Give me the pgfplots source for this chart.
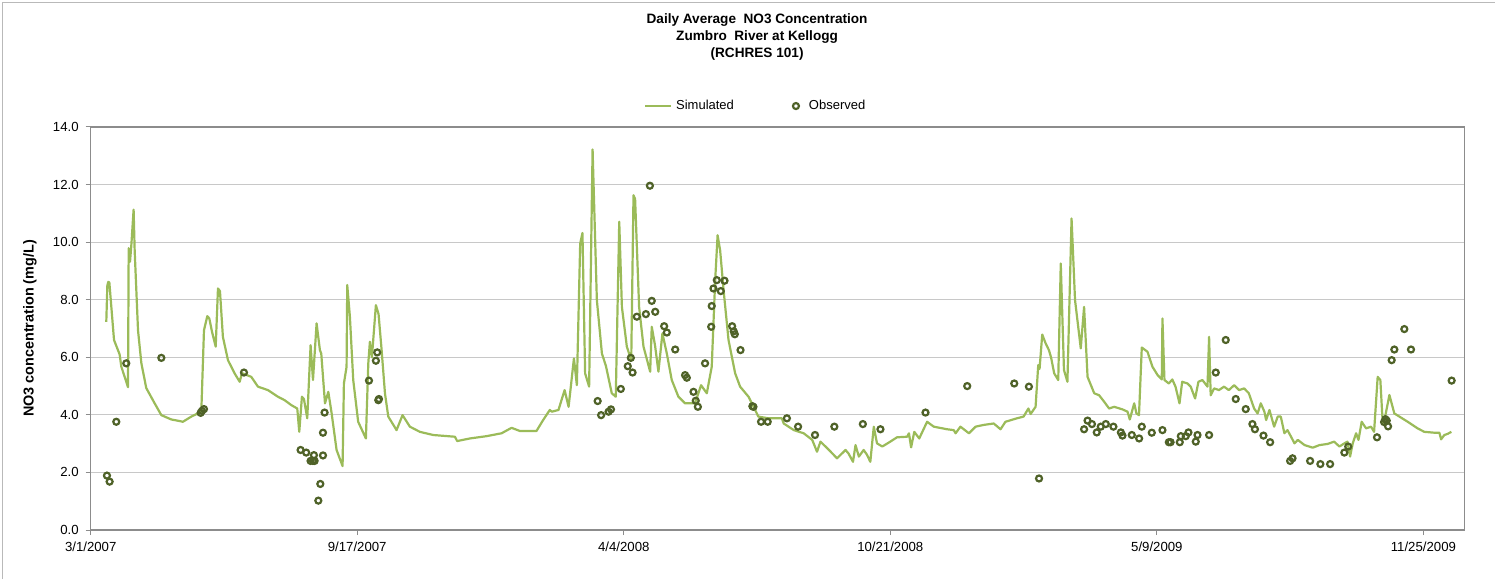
\documentclass[border=0pt]{standalone}
\usepackage{fontspec}
\setmainfont{Liberation Sans}
\usepackage{pgfplots}
\pgfplotsset{compat=1.18}
\definecolor{simgreen}{RGB}{155,187,89}
\definecolor{obsgreen}{RGB}{79,98,40}
\definecolor{gridgray}{RGB}{200,200,200}
\definecolor{axisgray}{RGB}{140,140,140}
\begin{document}
\begin{tikzpicture}
\useasboundingbox (-45.35pt,-24.5pt) rectangle (702.15pt,265pt);
% chart area border (left and top edges visible)
\draw[gray!55, line width=0.5pt] (-44.1pt,-24.5pt) -- (-44.1pt,263.75pt) -- (702.15pt,263.75pt);
\begin{axis}[
    at={(0,0)}, anchor=south west,
    scale only axis, width=687pt, height=201.5pt,
    xmin=0, xmax=1031, ymin=0, ymax=14,
    xtick={0,200,400,600,800,1000},
    xticklabels={3/1/2007,9/17/2007,4/4/2008,10/21/2008,5/9/2009,11/25/2009},
    ytick={0,2,4,6,8,10,12,14},
    yticklabels={0.0,2.0,4.0,6.0,8.0,10.0,12.0,14.0},
    xtick pos=bottom, ytick pos=left,
    tick align=outside, major tick length=2.5pt,
    axis line style={axisgray, line width=0.6pt},
    tick style={axisgray, line width=0.5pt},
    ymajorgrids=true,
    grid style={gridgray, line width=0.5pt},
    tick label style={font=\fontsize{6.6}{8}\selectfont},
    /pgf/number format/assume math mode=true,
    ylabel={NO3 concentration (mg/L)},
    every axis y label/.style={at={(axis description cs:-0.0442,0.5)}, rotate=90, anchor=center,
        font=\fontsize{7.2}{8}\selectfont\bfseries},
    title={Daily Average\ \ NO3 Concentration\\Zumbro\ \ River at Kellogg\\(RCHRES 101)},
    every axis title/.style={at={(axis description cs:0.485,1.2233)}, anchor=center, align=center,
        font=\fontsize{6.8}{8.5}\selectfont\bfseries},
    legend style={at={(axis description cs:0.398,1.052)}, anchor=west, draw=none, fill=none,
        font=\fontsize{6.5}{8}\selectfont, legend columns=2,
        /tikz/every even column/.append style={column sep=24.5pt}},
    legend cell align=left,
]

\addplot[simgreen, line width=1.1pt, line join=round,
    legend image code/.code={\draw[simgreen, line width=1.1pt] (0pt,0pt) -- (13pt,0pt);}]
coordinates {
(11.7,7.23)(12.5,8.5)(13.2,8.62)(14,8.6)(17.5,6.6)(21.7,6.1)(23,5.67)(25.5,5.32)
(28,4.96)(28.5,9.79)(29.5,9.32)(30.5,9.9)(32.2,11.13)(33,9.7)(35.5,6.94)(38,5.8)
(41.7,4.93)(48,4.4)(53,3.99)(60.5,3.84)(65,3.8)(69.2,3.76)(75.5,3.94)(83,4.11)
(85,6.94)(87.5,7.43)(89,7.35)(91,6.89)(93.8,6.37)(95.5,8.39)(97,8.3)(99.2,6.71)
(103,5.9)(108,5.44)(111.8,5.15)(113.5,5.45)(120.5,5.32)(125.5,4.98)(133,4.86)
(140.5,4.63)(145.5,4.51)(150.5,4.34)(155,4.22)(156.5,3.41)(158.5,4.63)(160,4.55)
(162.5,3.88)(165,6.42)(166.8,5.21)(169.5,7.18)(172,6.25)(173,6.13)(175.8,4.4)
(178.3,4.8)(180.8,4.05)(184.5,2.78)(189,2.22)(190,5.09)(192,5.67)(192.5,8.51)
(194.5,7.41)(197,5.21)(200.7,3.76)(206.5,3.18)(208.3,5.79)(209.5,6.54)(211,6.0)
(214,7.81)(216,7.5)(218.3,6.25)(220.8,4.75)(223.3,3.94)(229.5,3.47)(234,3.99)
(239.5,3.59)(247,3.41)(257,3.3)(273.3,3.24)(275,3.09)(284.5,3.18)(297,3.26)
(308.3,3.36)(315.8,3.55)(322,3.44)(334.5,3.44)(339.5,3.82)(344.5,4.17)(346,4.11)
(351,4.17)(355.6,4.86)(358.6,4.28)(362.6,5.96)(364.8,5.03)(367.3,9.95)(369,10.32)
(371,5.44)(374,4.98)(376.6,13.22)(379.8,7.99)(383.6,6.13)(386.6,5.7)(391,4.75)
(394,4.63)(396.6,10.71)(398.6,7.75)(402.3,6.37)(405.6,5.9)(407.3,11.63)(408.5,11.5)
(411.5,7.75)(414.8,6.37)(419.8,5.5)(421,7.06)(423.5,6.4)(426,5.5)(429,6.83)
(432.3,6.13)(436,5.21)(441,4.63)(446,4.4)(453.4,4.4)(458,5.03)(462.3,4.75)(466,5.67)
(468.6,8.68)(470.4,10.24)(472.3,9.72)(474.9,8.33)(478.6,6.6)(483.6,5.44)(487.3,4.98)
(493.6,4.63)(497.4,4.28)(501,3.94)(508.6,3.88)(518.6,3.88)(520,3.7)(527.6,3.47)
(535,3.36)(541.4,3.13)(545,2.72)(547.6,3.07)(554,2.78)(560,2.49)(566.4,2.78)
(568.6,2.66)(572,2.37)(573.9,2.95)(576.4,2.55)(580,2.78)(582.4,2.62)(585,2.37)
(587.6,3.59)(590,3.01)(594,2.9)(600,3.07)(605,3.22)(612.6,3.24)(614,3.36)(615.6,2.87)
(618,3.41)(621.7,3.18)(627.6,3.76)(632.6,3.59)(642.6,3.5)(647.6,3.47)(649,3.36)
(652.6,3.59)(659,3.36)(664,3.59)(670,3.65)(677.6,3.7)(682.7,3.5)(686.4,3.76)(695,3.88)
(700,3.94)(703.6,4.22)(705.3,4.03)(709,4.28)(711,5.73)(712,5.6)(714,6.79)(716.4,6.5)
(719,6.25)(720.6,6.0)(723,5.44)(726,5.21)(727.9,9.26)(730.3,5.56)(732.9,5.15)
(736,10.82)(738.6,7.99)(740.4,7.29)(742.9,6.31)(745.4,7.75)(748,5.32)(753,4.75)
(756.7,4.68)(760.4,4.46)(764.2,4.22)(768,4.28)(774.2,4.19)(778,4.11)(779.7,3.84)
(783,4.4)(784.7,4.05)(786.6,3.99)(788.7,6.34)(793,6.19)(796.7,5.67)(800.6,5.38)
(803.7,5.23)(804.2,7.35)(805.7,5.21)(809,5.09)(811.6,5.23)(814,4.98)(817,4.4)
(819,5.15)(823,5.09)(825.4,4.98)(828.7,4.57)(831.2,5.15)(834.2,5.21)(838,4.98)
(839.2,6.71)(840.4,4.68)(843,4.92)(846.6,4.86)(850.4,4.98)(854,4.86)(858,5.03)
(861.7,4.86)(865.5,4.92)(869,4.75)(873,4.22)(875.6,4.05)(878,4.4)(880.7,4.11)
(882,3.82)(884.5,4.17)(888,3.59)(890.7,3.94)(893,3.94)(895.7,3.36)(898,3.47)
(900.7,3.24)(903.3,3.01)(905.8,3.13)(910.8,2.95)(917,2.86)(922,2.95)(928.2,2.99)
(933,3.07)(937,2.9)(940.7,3.01)(943,3.07)(945,2.55)(947,3.01)(949.5,3.36)(951.3,3.13)
(953.7,3.76)(957,3.53)(960.7,3.59)(963,3.41)(965.7,5.32)(967.7,5.21)(969.5,3.7)
(971.3,3.94)(974.5,4.69)(978.2,4.05)(982,3.94)(988.2,3.76)(995.7,3.53)(1000.7,3.41)
(1008.2,3.38)(1012,3.38)(1013.3,3.15)(1015.7,3.3)(1018.2,3.34)(1021,3.41)
};
\addlegendentry{Simulated}

\addplot[only marks, mark=o, mark size=1.5pt, obsgreen, mark options={line width=1.1pt},
    legend image code/.code={\path[draw=none] (0pt,0pt) -- (9pt,0pt);
        \draw[obsgreen, line width=1.1pt] (4.5pt,0pt) circle (1.5pt);}]
coordinates {
(12.2,1.89)(14.2,1.68)(19.2,3.76)(26.7,5.79)(53,5.98)(82.5,4.07)(83.5,4.14)(85,4.2)
(115,5.47)(157.5,2.78)(161.7,2.69)(165,2.4)(166.8,2.4)(168,2.4)(167.5,2.6)(170.8,1.02)
(172.3,1.6)(174.3,2.59)(174.3,3.38)(175.5,4.08)(208.8,5.19)(214,5.88)(215,6.17)
(215.8,4.51)(216.3,4.55)(380.4,4.48)(383,3.99)(388.6,4.11)(390.4,4.19)(397.8,4.9)
(403,5.69)(405.3,5.98)(406.6,5.47)(409.8,7.41)(416.6,7.5)(419.6,11.96)(421,7.96)
(423.6,7.58)(430.3,7.08)(432.3,6.86)(438.6,6.27)(446,5.38)(447.3,5.29)(452.3,4.8)
(454,4.49)(455.6,4.28)(461,5.79)(465.6,7.06)(466,7.78)(467.3,8.39)(469.8,8.68)
(472.8,8.3)(475.6,8.66)(481.3,7.08)(482.5,6.9)(483.3,6.8)(487.6,6.25)(496.5,4.3)
(497.3,4.28)(503,3.76)(508,3.76)(522.4,3.88)(530.8,3.59)(543.5,3.3)(558,3.59)
(579.4,3.68)(592.6,3.5)(626.4,4.08)(657.7,5.0)(693,5.09)(704,4.98)(711.6,1.79)
(745.4,3.5)(748,3.8)(751.3,3.68)(754.9,3.39)(757.9,3.59)(761.7,3.68)(767.4,3.59)
(773,3.39)(774.2,3.28)(781.2,3.3)(786.7,3.18)(788.7,3.59)(796.2,3.38)(804.2,3.47)
(809,3.05)(810.3,3.05)(817.2,3.05)(818,3.26)(821.7,3.26)(823.7,3.39)(829.2,3.07)
(830.5,3.3)(839.2,3.3)(844.2,5.47)(851.7,6.6)(859.2,4.55)(866.7,4.2)(871.7,3.68)
(873.6,3.5)(880,3.28)(885,3.05)(900,2.4)(901.8,2.49)(915,2.4)(922.7,2.29)(930,2.29)
(940.7,2.69)(943.6,2.9)(965.2,3.22)(970.5,3.75)(971.5,3.85)(972.5,3.8)(973.5,3.6)
(976.2,5.9)(978.2,6.27)(985.7,6.98)(990.7,6.27)(1021.2,5.19)
};
\addlegendentry{Observed}
\end{axis}
\end{tikzpicture}
\end{document}
